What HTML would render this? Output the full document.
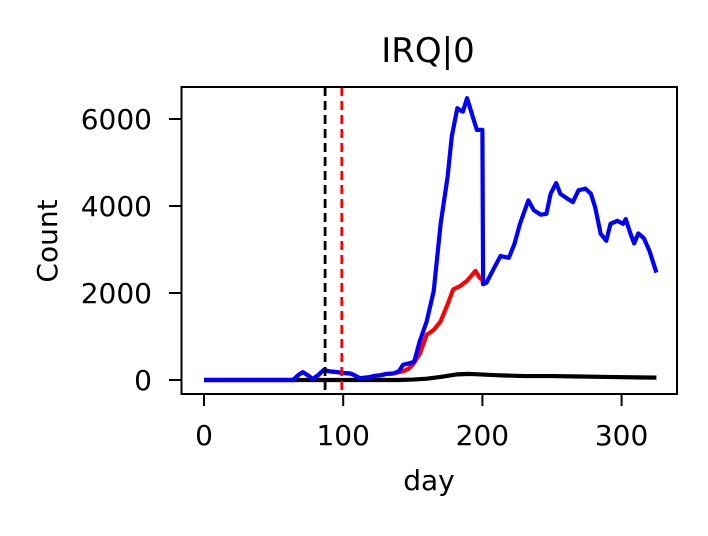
<!DOCTYPE html>
<html><head><meta charset="utf-8"><style>
body{margin:0;background:#fff;}
svg text{font-family:"DejaVu Sans","Liberation Sans",sans-serif;fill:#000;}
</style></head><body>
<svg id="chart" width="708" height="531" viewBox="0 0 708 531" xmlns="http://www.w3.org/2000/svg">
<rect width="708" height="531" fill="#fff"/>
<text x="428" y="62" font-size="34" text-anchor="middle">IRQ|0</text>
<defs><clipPath id="plotclip"><rect x="181" y="87" width="497" height="307"/></clipPath></defs>
<g id="marks" clip-path="url(#plotclip)"></g>
<rect x="181.5" y="87" width="495.5" height="307" fill="none" stroke="#000" stroke-width="2"/>
<g id="axes"></g>
<text x="429" y="490" font-size="28" text-anchor="middle">day</text>
<text x="57" y="241" font-size="28" text-anchor="middle" transform="rotate(-90 57 241)">Count</text>
</svg>
<script>
const xTicks=[0,100,200,300];
const yTicks=[0,2000,4000,6000];
const blueDays=[0,64,68,71,75,78,82,86,90,96,100,105,108,112,118,122,127,131,136,140,143,147,151,155,160,165,170,175,178,182,184,186,189,193,196,200,200.5,203,208,213,219,223,227,230,233,237,242,246,249,253,256,261,265,269,274,278,281,285,289,292,297,301,303,306,309,312,316,320,325];
const blueVals=[0,0,120,180,100,20,110,230,200,180,160,150,110,40,60,90,110,140,150,200,350,380,420,890,1350,2040,3590,4670,5600,6250,6200,6170,6480,6060,5750,5750,2200,2240,2550,2850,2810,3125,3590,3860,4130,3900,3800,3820,4280,4530,4280,4170,4090,4360,4400,4280,3970,3360,3200,3590,3660,3590,3700,3400,3140,3370,3260,2970,2470];
const redDays=[0,64,68,71,75,78,82,86,90,96,100,105,108,112,118,122,127,131,136,140,143,147,150,155,160,165,170,175,179,184,189,195,198,200,200.5];
const redVals=[0,0,120,180,100,20,110,230,200,180,160,150,110,40,60,90,110,140,150,180,200,260,350,600,1040,1150,1350,1740,2080,2160,2280,2510,2350,2300,2200];
const blackDays=[0,140,150,160,170,182,191,210,230,250,270,290,310,325];
const blackVals=[0,0,10,30,70,130,140,110,90,90,80,70,60,55];
const vlineDays=[87,99];
const vlineColors=['#000','#f00'];
const sx=d=>204+d*1.392;
const sy=v=>380-v*0.0435;
const NS='http://www.w3.org/2000/svg';
const marks=document.getElementById('marks'),axes=document.getElementById('axes');
function line(days,vals,color,name){
  const p=document.createElementNS(NS,'polyline');
  p.setAttribute('points',days.map((d,i)=>sx(d)+','+sy(vals[i])).join(' '));
  p.setAttribute('fill','none');p.setAttribute('stroke',color);p.setAttribute('stroke-width','4.2');p.setAttribute('stroke-linejoin','round');
  
  
  marks.appendChild(p);
}
line(blackDays,blackVals,'#000','series-black');
line(redDays,redVals,'#f00','series-red');
line(blueDays,blueVals,'#00f','series-blue');
vlineDays.forEach((d,i)=>{
  const l=document.createElementNS(NS,'line');
  l.setAttribute('x1',sx(d));l.setAttribute('x2',sx(d));l.setAttribute('y1',87);l.setAttribute('y2',394);
  l.setAttribute('stroke',vlineColors[i]);l.setAttribute('stroke-width','2.8');l.setAttribute('stroke-dasharray','9,5');
  
  
  marks.appendChild(l);
});
xTicks.forEach(t=>{
  const l=document.createElementNS(NS,'line');
  l.setAttribute('x1',sx(t));l.setAttribute('x2',sx(t));l.setAttribute('y1',394);l.setAttribute('y2',406);l.setAttribute('stroke','#000');l.setAttribute('stroke-width','2');
  
  
  axes.appendChild(l);
  const tx=document.createElementNS(NS,'text');
  tx.setAttribute('x',sx(t));tx.setAttribute('y',445);tx.setAttribute('font-size','28');tx.setAttribute('text-anchor','middle');tx.textContent=t;
  
  
  axes.appendChild(tx);
});
yTicks.forEach(t=>{
  const l=document.createElementNS(NS,'line');
  l.setAttribute('x1',169);l.setAttribute('x2',181);l.setAttribute('y1',sy(t));l.setAttribute('y2',sy(t));l.setAttribute('stroke','#000');l.setAttribute('stroke-width','2');
  
  
  axes.appendChild(l);
  const tx=document.createElementNS(NS,'text');
  tx.setAttribute('x',152);tx.setAttribute('y',sy(t)+10);tx.setAttribute('font-size','28');tx.setAttribute('text-anchor','end');tx.textContent=t;
  
  
  axes.appendChild(tx);
});
</script>
</body></html>
